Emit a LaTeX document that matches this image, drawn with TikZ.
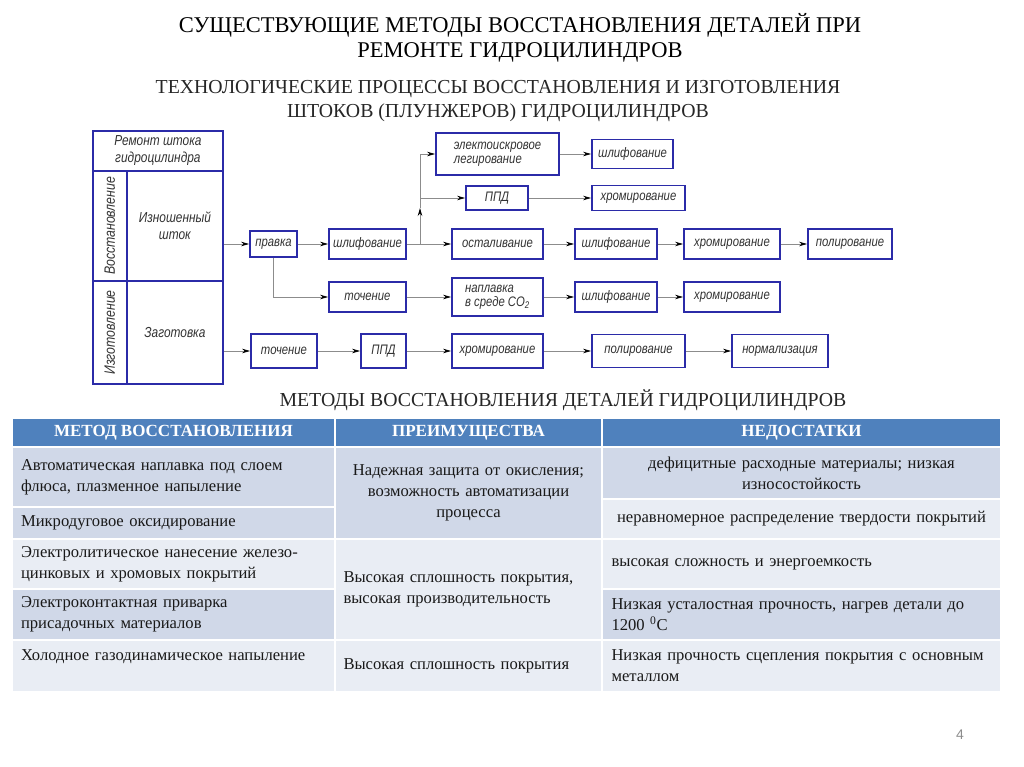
\documentclass[tikz,border=0pt]{standalone}
\usepackage{fontspec}
\setmainfont{Liberation Serif}
\newfontfamily\gost[FakeStretch=0.82]{Liberation Sans}
\newfontfamily\numfont{Liberation Sans}
\usetikzlibrary{arrows.meta}
\definecolor{boxblue}{HTML}{2B2BA8}
\definecolor{hdr}{HTML}{4F81BD}
\definecolor{cd}{HTML}{D0D8E8}
\definecolor{cl}{HTML}{E9EDF4}
\tikzset{
  fbox/.style={draw=boxblue, line width=1.8pt, fill=white, inner sep=0pt, text=black!80,
    font=\gost\itshape\fontsize{13.8}{14}\selectfont, align=center},
  tcell/.style={draw=boxblue, line width=1.8pt, inner sep=0pt, anchor=north west, text=black!80,
    font=\gost\itshape\fontsize{14.5}{17}\selectfont, align=center},
  arr/.style={draw=black!45, line width=0.8pt, -{Stealth[black, length=8pt, width=4.5pt]}},
  ln/.style={draw=black!45, line width=0.8pt},
  cell/.style={draw=white, line width=2pt, inner sep=0pt, anchor=north west,
    font=\fontsize{16.6}{21}\selectfont, text=black!90},
  hcell/.style={cell, fill=hdr, text=white, font=\bfseries\fontsize{17}{18}\selectfont},
}
\begin{document}
\begin{tikzpicture}[x=1pt, y=-1pt]
\useasboundingbox (0,0) rectangle (1024,767);
\fill[white] (0,0) rectangle (1024,767);

% titles
\node[font=\fontsize{22.5}{25}\selectfont, align=center] (title) at (520,38)
  {СУЩЕСТВУЮЩИЕ МЕТОДЫ ВОССТАНОВЛЕНИЯ ДЕТАЛЕЙ ПРИ\\РЕМОНТЕ ГИДРОЦИЛИНДРОВ};
\node[font=\fontsize{19.8}{24}\selectfont, align=center, text=black!85] (sub) at (498,101)
  {ТЕХНОЛОГИЧЕСКИЕ ПРОЦЕССЫ ВОССТАНОВЛЕНИЯ И ИЗГОТОВЛЕНИЯ\\ШТОКОВ (ПЛУНЖЕРОВ) ГИДРОЦИЛИНДРОВ};

% left table of flowchart
\node[tcell, minimum width=130pt, minimum height=40pt] (cTop) at (92,130) {Ремонт штока\\гидроцилиндра};
\node[tcell, minimum width=34pt, minimum height=110pt] (cVos) at (92,170) {};
\node[tcell, minimum width=96pt, minimum height=110pt] (cIzn) at (126,170) {Изношенный\\шток};
\node[tcell, minimum width=34pt, minimum height=103pt] (cIzg) at (92,280) {};
\node[tcell, minimum width=96pt, minimum height=103pt] (cZag) at (126,280) {Заготовка};
\node[rotate=90, font=\gost\itshape\fontsize{15}{15}\selectfont, text=black!80] (tVos) at (cVos.center) {Восстановление};
\node[rotate=90, font=\gost\itshape\fontsize{15}{15}\selectfont, text=black!80] (tIzg) at (cIzg.center) {Изготовление};

% main row
\node[fbox, minimum width=47pt, minimum height=26pt] (pravka) at (273.5,244) {правка};
\node[fbox, minimum width=77pt, minimum height=30pt] (shl1) at (367.5,244) {шлифование};
\node[fbox, minimum width=91pt, minimum height=30pt] (ostal) at (497.5,244) {осталивание};
\node[fbox, minimum width=82pt, minimum height=30pt] (shl2) at (616,244) {шлифование};
\node[fbox, minimum width=96pt, minimum height=30pt] (khr1) at (732,244) {хромирование};
\node[fbox, minimum width=84pt, minimum height=30pt] (polir1) at (850,244) {полирование};
% upper rows
\node[fbox, minimum width=123pt, minimum height=42pt, align=left] (elektro) at (497.5,154) {электоискровое\\легирование};
\node[fbox, minimum width=62pt, minimum height=24pt] (ppd1) at (497,198) {ППД};
\node[fbox, minimum width=81pt, minimum height=29pt] (shl3) at (632.5,154) {шлифование};
\node[fbox, minimum width=93pt, minimum height=25pt] (khr2) at (638.5,198) {хромирование};
% middle row
\node[fbox, minimum width=77pt, minimum height=30pt] (toch1) at (367.5,297) {точение};
\node[fbox, minimum width=91pt, minimum height=38pt, align=left] (naplav) at (497.5,297) {наплавка\\в среде CO\textsubscript{2}};
\node[fbox, minimum width=82pt, minimum height=30pt] (shl4) at (616,297) {шлифование};
\node[fbox, minimum width=96pt, minimum height=30pt] (khr3) at (732,297) {хромирование};
% bottom row
\node[fbox, minimum width=66pt, minimum height=34pt] (toch2) at (284,351) {точение};
\node[fbox, minimum width=45pt, minimum height=34pt] (ppd2) at (383.5,351) {ППД};
\node[fbox, minimum width=91pt, minimum height=34pt] (khr4) at (497.5,351) {хромирование};
\node[fbox, minimum width=93pt, minimum height=33pt] (polir2) at (638.5,351) {полирование};
\node[fbox, minimum width=96pt, minimum height=33pt] (norm) at (780,351) {нормализация};

% connectors
\coordinate (br) at (420,244);
\coordinate (brM) at (420,208);
\coordinate (brT) at (420,154);
\coordinate (brP) at (420,198);
\draw[arr] (cIzn.east |- pravka.west) -- (pravka.west);
\draw[arr] (cZag.east |- toch2.west) -- (toch2.west);
\draw[arr] (pravka) -- (shl1);
\draw[arr] (shl1) -- (ostal);
\draw[arr] (ostal) -- (shl2);
\draw[arr] (shl2) -- (khr1);
\draw[arr] (khr1) -- (polir1);
\draw[arr] (br) -- (brM);
\draw[ln] (brM) -- (brT);
\draw[arr] (brT) -- (elektro.west);
\draw[arr] (brP) -- (ppd1.west);
\draw[arr] (elektro) -- (shl3);
\draw[arr] (ppd1) -- (khr2);
\draw[arr] (pravka.south) |- (toch1.west);
\draw[arr] (toch1) -- (naplav);
\draw[arr] (naplav) -- (shl4);
\draw[arr] (shl4) -- (khr3);
\draw[arr] (toch2) -- (ppd2);
\draw[arr] (ppd2) -- (khr4);
\draw[arr] (khr4) -- (polir2);
\draw[arr] (polir2) -- (norm);

% second heading
\node[font=\fontsize{19.8}{22}\selectfont, text=black!85] (head2) at (563,400) {МЕТОДЫ ВОССТАНОВЛЕНИЯ ДЕТАЛЕЙ ГИДРОЦИЛИНДРОВ};

% table header
\node[hcell, minimum width=323pt, minimum height=29pt] (h1) at (11,417) {МЕТОД ВОССТАНОВЛЕНИЯ};
\node[hcell, minimum width=267pt, minimum height=29pt] (h2) at (334,417) {ПРЕИМУЩЕСТВА};
\node[hcell, minimum width=399pt, minimum height=29pt] (h3) at (601,417) {НЕДОСТАТКИ};

% column 1
\node[cell, fill=cd, minimum width=323pt, minimum height=60pt, text width=305pt, align=left] (a1) at (11,446)
  {Автоматическая наплавка под слоем\\флюса, плазменное напыление};
\node[cell, fill=cd, minimum width=323pt, minimum height=32pt, text width=305pt, align=left] (a2) at (11,506)
  {Микродуговое оксидирование};
\node[cell, fill=cl, minimum width=323pt, minimum height=50pt, text width=305pt, align=left] (a3) at (11,538)
  {Электролитическое нанесение железо-\\цинковых и хромовых покрытий};
\node[cell, fill=cd, minimum width=323pt, minimum height=51pt, text width=305pt, align=left] (a4) at (11,588)
  {Электроконтактная приварка\\присадочных материалов};
\node[cell, fill=cl, minimum width=323pt, minimum height=52pt, text width=305pt, align=left] (a5) at (11,639)
  {Холодное газодинамическое напыление\\\mbox{}};

% column 2
\node[cell, fill=cd, minimum width=267pt, minimum height=92pt, text width=252pt, align=center] (b1) at (334,446)
  {Надежная защита от окисления;\\возможность автоматизации\\процесса};
\node[cell, fill=cl, minimum width=267pt, minimum height=101pt, text width=250pt, align=left] (b2) at (334,538)
  {Высокая сплошность покрытия,\\высокая производительность};
\node[cell, fill=cl, minimum width=267pt, minimum height=52pt, text width=250pt, align=left] (b3) at (334,639)
  {Высокая сплошность покрытия};

% column 3
\node[cell, fill=cd, minimum width=399pt, minimum height=52pt, text width=384pt, align=center] (d1) at (601,446)
  {дефицитные расходные материалы; низкая\\износостойкость};
\node[cell, fill=cl, minimum width=399pt, minimum height=40pt, text width=384pt, align=center] (d2) at (601,498)
  {неравномерное распределение твердости покрытий};
\node[cell, fill=cl, minimum width=399pt, minimum height=50pt, text width=380pt, align=left] (d3) at (601,538)
  {высокая сложность и энергоемкость};
\node[cell, fill=cd, minimum width=399pt, minimum height=51pt, text width=380pt, align=left] (d4) at (601,588)
  {Низкая усталостная прочность, нагрев детали до\\1200 \textsuperscript{0}C};
\node[cell, fill=cl, minimum width=399pt, minimum height=52pt, text width=380pt, align=left] (d5) at (601,639)
  {Низкая прочность сцепления покрытия с основным\\металлом};

% page number
\node[font=\numfont\fontsize{14}{16}\selectfont, text=black!45] (pg) at (960,735) {4};
\end{tikzpicture}
\end{document}
